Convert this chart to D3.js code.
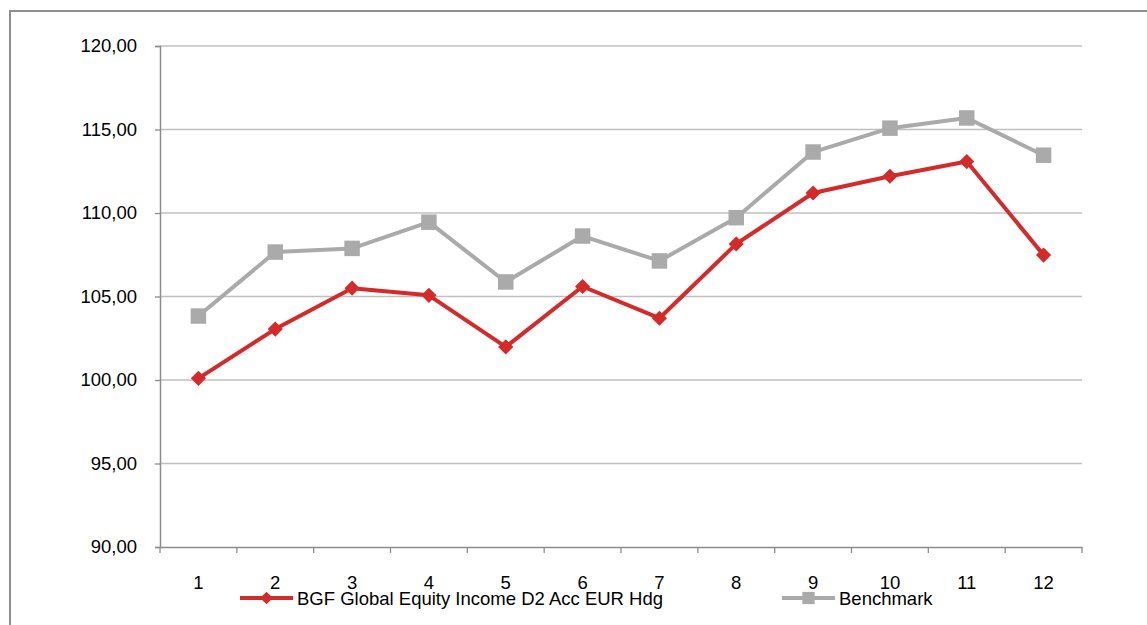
<!DOCTYPE html>
<html>
<head>
<meta charset="utf-8">
<script src="https://cdn.jsdelivr.net/npm/d3@7"></script>
<style>
  html, body { margin: 0; padding: 0; background: #fff; }
  svg { display: block; }
  text { font-family: "Liberation Sans", Arial, sans-serif; fill: #000; }
</style>
</head>
<body>
<svg id="chart" width="1147" height="625"></svg>
<script>
const categories = ["1","2","3","4","5","6","7","8","9","10","11","12"];
const fundValues = [100.1, 103.05, 105.5, 105.07, 101.98, 105.6, 103.7, 108.15, 111.2, 112.2, 113.08, 107.48];
const benchmarkValues = [103.83, 107.66, 107.88, 109.45, 105.87, 108.62, 107.13, 109.72, 113.65, 115.08, 115.69, 113.46];
const yTicks = [90, 95, 100, 105, 110, 115, 120];
const seriesNames = ["BGF Global Equity Income D2 Acc EUR Hdg", "Benchmark"];

(function () {
const svg = d3.select("#chart");
const pL = 160, pR = 1082, pT = 46, pB = 547;
const FS = 18.5;

svg.append("path")
  .attr("d", `M10,${625 + 5} L10,11 L${1147 + 5},11`)
  .attr("fill", "none").attr("stroke", "#8e8e8e").attr("stroke-width", 2);

const x = d3.scaleBand().domain(categories).range([pL, pR]);
const y = d3.scaleLinear().domain([90, 120]).range([pB, pT]);
const fmt = v => d3.format(".2f")(v).replace(".", ",");

svg.append("g").selectAll("line").data(yTicks.filter(t => t !== 90)).join("line")
  .attr("x1", pL).attr("x2", pR)
  .attr("y1", d => y(d)).attr("y2", d => y(d))
  .attr("stroke", "#c0c0c0").attr("stroke-width", 1.3);

const yAxis = svg.append("g").attr("transform", `translate(${pL},0)`)
  .call(d3.axisLeft(y).tickValues(yTicks).tickFormat(fmt).tickSize(5).tickPadding(18));
yAxis.select(".domain").attr("stroke", "#8c8c8c").attr("stroke-width", 1.5);
yAxis.selectAll(".tick line").attr("stroke", "#8c8c8c").attr("stroke-width", 1.3);
yAxis.selectAll(".tick text").attr("font-size", FS).attr("font-family", "Liberation Sans, Arial, sans-serif").attr("fill", "#000");

const xAxis = svg.append("g").attr("transform", `translate(0,${pB})`)
  .call(d3.axisBottom(x).tickSize(0).tickPadding(29));
xAxis.select(".domain").attr("stroke", "#8c8c8c").attr("stroke-width", 1.5);
xAxis.selectAll(".tick text").attr("font-size", FS).attr("font-family", "Liberation Sans, Arial, sans-serif").attr("fill", "#000");
const bounds = categories.map(c => x(c)).concat([pR]);
svg.append("g").selectAll("line").data(bounds).join("line")
  .attr("x1", d => d).attr("x2", d => d)
  .attr("y1", pB).attr("y2", pB + 6)
  .attr("stroke", "#8c8c8c").attr("stroke-width", 1.3);

const cx = c => x(c) + x.bandwidth() / 2;
const red = "#d42a2a", gray = "#aaaaaa";

function drawSeries(vals, color, shape) {
  const pts = categories.map((c, i) => [cx(c), y(vals[i])]);
  svg.append("path").attr("d", d3.line()(pts))
    .attr("fill", "none").attr("stroke", color).attr("stroke-width", 4).attr("stroke-linejoin", "round");
  const sym = d3.symbol().type(d3.symbolSquare).size(shape === "diamond" ? 115 : 240);
  svg.append("g").selectAll("path").data(pts).join("path")
    .attr("d", sym)
    .attr("transform", d => `translate(${d[0]},${d[1]})` + (shape === "diamond" ? " rotate(45)" : ""))
    .attr("fill", color);
}
drawSeries(benchmarkValues, gray, "square");
drawSeries(fundValues, red, "diamond");

function legendItem(x0, yy, color, shape, label) {
  const g = svg.append("g");
  g.append("line").attr("x1", x0).attr("x2", x0 + 53).attr("y1", yy).attr("y2", yy)
    .attr("stroke", color).attr("stroke-width", 4);
  g.append("path").attr("d", d3.symbol().type(d3.symbolSquare).size(shape === "diamond" ? 80 : 150))
    .attr("transform", `translate(${x0 + 26.5},${yy})` + (shape === "diamond" ? " rotate(45)" : ""))
    .attr("fill", color);
  g.append("text").attr("x", x0 + 57).attr("y", yy + 7).attr("font-size", FS).text(label);
}
legendItem(240, 598, red, "diamond", seriesNames[0]);
legendItem(782, 598, gray, "square", seriesNames[1]);
})();
</script>
</body>
</html>
